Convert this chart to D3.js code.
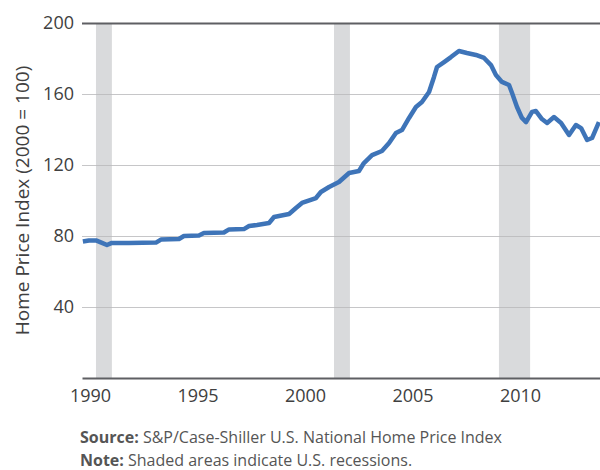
<!DOCTYPE html>
<html>
<head>
<meta charset="utf-8">
<script src="https://cdn.jsdelivr.net/npm/d3@7"></script>
<style>
  body { margin: 0; background: #fff; }
  text { font-family: "Open Sans", "Noto Sans", sans-serif; }
</style>
</head>
<body>
<div class="chart"></div>
<script>
// index values (x in axis years, y = index, 2000 = 100)
const years = [1989.67, 1989.95, 1990.28, 1990.56, 1990.79, 1991.02, 1991.81, 1993.07, 1993.3, 1994.14,
  1994.37, 1995.07, 1995.3, 1996.23, 1996.47, 1997.16, 1997.4, 1997.77, 1998.33, 1998.56,
  1999.26, 1999.58, 1999.86, 2000.51, 2000.74, 2001.12, 2001.58, 2002.05, 2002.51, 2002.74,
  2003.12, 2003.58, 2003.91, 2004.23, 2004.51, 2004.84, 2005.16, 2005.44, 2005.77, 2006.0,
  2006.14, 2006.47, 2006.79, 2007.16, 2007.53, 2007.95, 2008.33, 2008.65, 2008.88, 2009.16,
  2009.49, 2009.63, 2009.86, 2010.09, 2010.28, 2010.56, 2010.74, 2011.02, 2011.26, 2011.58,
  2011.91, 2012.28, 2012.6, 2012.84, 2013.12, 2013.35, 2013.67]
const index = [76.9, 77.5, 77.5, 76.1, 74.9, 76.1, 76.1, 76.3, 78.0, 78.3,
  80.0, 80.3, 81.7, 82.0, 83.7, 83.9, 85.6, 86.2, 87.3, 90.7,
  92.4, 95.8, 98.6, 101.4, 104.8, 107.6, 110.4, 115.5, 116.6, 121.1,
  125.6, 127.9, 132.4, 138.0, 139.7, 146.5, 152.7, 155.5, 161.1, 169.6,
  175.2, 178.0, 180.8, 184.2, 183.1, 182.0, 180.3, 176.3, 170.7, 166.8,
  165.1, 160.6, 152.7, 146.5, 144.2, 149.9, 150.4, 145.9, 143.7, 147.0,
  143.7, 136.9, 142.5, 140.8, 134.1, 135.2, 144.2]

// recessions (start, end) in the same axis years
const recessions = [[1990.28, 1991.02], [2001.35, 2002.09], [2009.02, 2010.47]]

const xTicks = [1990, 1995, 2000, 2005, 2010]
const yTicks = [40, 80, 120, 160, 200]

const width = 600, height = 470
const margin = {top: 23, right: 0, bottom: 92, left: 82}

const svg = d3.select(".chart")
  .append("svg")
  .attr("width", width)
  .attr("height", height)

const x = d3.scaleLinear()
  .domain([1989.63, 2013.72])
  .range([margin.left, width - margin.right])

const y = d3.scaleLinear()
  .domain([0, 200])
  .range([height - margin.bottom, margin.top])

// shaded recessions
svg.append("g")
  .selectAll("rect")
  .data(recessions)
  .join("rect")
  .attr("x", d => x(d[0]))
  .attr("width", d => x(d[1]) - x(d[0]))
  .attr("y", y(200))
  .attr("height", y(0) - y(200))
  .attr("fill", "#d9dadc")

// gridlines + y labels
const yAxis = svg.append("g")
  .attr("transform", `translate(${margin.left},0)`)
  .call(d3.axisLeft(y).tickValues(yTicks).tickSize(-(width - margin.left - margin.right)).tickPadding(8))
yAxis.select(".domain").remove()
yAxis.selectAll(".tick line")
  .attr("stroke", d => d == 200 ? "#5e5f63" : "#b8b8ba")
  .attr("stroke-width", d => d == 200 ? 2 : 1)
  .attr("stroke-opacity", d => d == 200 ? 1 : 0.8)
yAxis.selectAll(".tick text")
  .attr("font-size", "18px")
  .attr("fill", "#404040")

// x axis
const xAxis = svg.append("g")
  .attr("transform", `translate(0,${y(0)})`)
  .call(d3.axisBottom(x).tickValues(xTicks).tickFormat(d3.format("d")).tickSize(0).tickPadding(11))
xAxis.select(".domain")
  .attr("stroke", "#5e5f63")
  .attr("stroke-width", 2)
xAxis.selectAll(".tick text")
  .attr("font-size", "18px")
  .attr("fill", "#404040")

// the line
const line = d3.line()
  .x((d, i) => x(years[i]))
  .y(d => y(d))

svg.append("path")
  .datum(index)
  .attr("d", line)
  .attr("fill", "none")
  .attr("stroke", "#3e74b8")
  .attr("stroke-width", 4.5)
  .attr("stroke-linejoin", "round")

// y title
svg.append("text")
  .attr("transform", `translate(29,${(y(0) + y(200)) / 2}) rotate(-90)`)
  .attr("text-anchor", "middle")
  .attr("font-size", "19px")
  .attr("fill", "#404040")
  .text("Home Price Index (2000 = 100)")

// notes
const notes = [["Source:", " S&P/Case-Shiller U.S. National Home Price Index"],
               ["Note:", " Shaded areas indicate U.S. recessions."]]
svg.append("g")
  .selectAll("text")
  .data(notes)
  .join("text")
  .attr("x", 80)
  .attr("y", (d, i) => 443 + i * 23)
  .attr("font-size", "16px")
  .attr("fill", "#555")
  .each(function(d) {
    d3.select(this).append("tspan").attr("font-weight", "bold").text(d[0])
    d3.select(this).append("tspan").text(d[1])
  })
</script>
</body>
</html>
